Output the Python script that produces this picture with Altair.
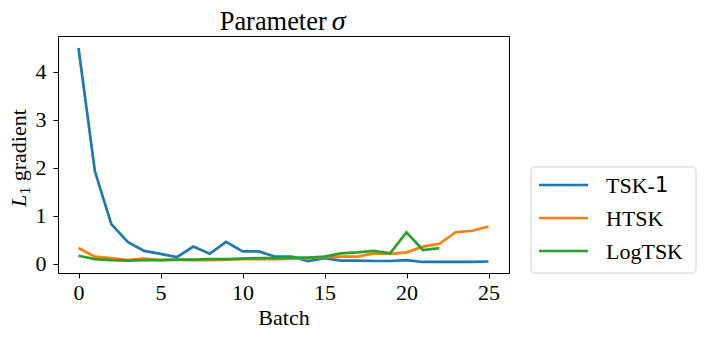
import altair as alt
import pandas as pd

batch = list(range(26))
tsk1 = [4.50, 1.93, 0.83, 0.46, 0.27, 0.21, 0.14, 0.36, 0.21, 0.46, 0.26, 0.26, 0.15,
        0.15, 0.06, 0.12, 0.07, 0.07, 0.06, 0.06, 0.08, 0.04, 0.04, 0.04, 0.04, 0.05]
htsk = [0.33, 0.15, 0.12, 0.08, 0.11, 0.08, 0.09, 0.08, 0.08, 0.09, 0.10, 0.10, 0.10,
        0.11, 0.12, 0.14, 0.15, 0.15, 0.22, 0.21, 0.24, 0.36, 0.42, 0.66, 0.69, 0.78]
logtsk = [0.17, 0.10, 0.08, 0.07, 0.08, 0.08, 0.09, 0.09, 0.10, 0.10, 0.11, 0.12, 0.12,
          0.13, 0.13, 0.15, 0.22, 0.24, 0.27, 0.22, 0.66, 0.29, 0.33]
series_names = ["TSK-1", "HTSK", "LogTSK"]
series_colors = ["#1f77b4", "#ff7f0e", "#2ca02c"]
x_ticks = [0, 5, 10, 15, 20, 25]
y_ticks = [0, 1, 2, 3, 4]

rows = []
for name, vals in zip(series_names, [tsk1, htsk, logtsk]):
    for b, v in zip(batch, vals):
        rows.append({"Batch": b, "value": v, "series": name})
df = pd.DataFrame(rows)

FONT = "Liberation Serif"
W, H = 451, 237

lines = alt.Chart(df).mark_line(strokeWidth=2.7, clip=True).encode(
    x=alt.X("Batch:Q", scale=alt.Scale(domain=[-1.25, 26.25], nice=False, zero=False),
            axis=alt.Axis(values=x_ticks, title="Batch", format="d")),
    y=alt.Y("value:Q", scale=alt.Scale(domain=[-0.19, 4.75], nice=False, zero=False),
            axis=alt.Axis(values=y_ticks, title=None, format="d")),
    color=alt.Color("series:N",
                    scale=alt.Scale(domain=series_names, range=series_colors),
                    legend=None),
    order="Batch:Q",
    detail="series:N",
)

def txt(text, x, y, size, italic=False, align="left", angle=0, baseline="alphabetic",
        font=FONT):
    d = pd.DataFrame({"t": [text]})
    kw = dict(font=font, fontSize=size, align=align, baseline=baseline, color="black")
    if italic:
        kw["fontStyle"] = "italic"
    if angle:
        kw["angle"] = angle
    return alt.Chart(d).mark_text(**kw).encode(
        text="t:N", x=alt.value(x), y=alt.value(y))

title1 = txt("Parameter", 268.7, -6.5, 26.4, align="right")
title2 = txt("σ", 273.7, -6.5, 28, italic=True)
ylab1 = txt("L", -32, 171, 22, italic=True, angle=270)
ylab2 = txt("1", -28.5, 158.5, 15.4, angle=270)
ylab3 = txt("gradient", -32, 145.3, 22, angle=270)

# legend (box, line samples, labels)
legend_box = alt.Chart(pd.DataFrame({"k": [0]})).mark_rect(
    fill="white", stroke="#d0d0d0", strokeWidth=1, cornerRadius=4
).encode(x=alt.value(473), x2=alt.value(638), y=alt.value(131), y2=alt.value(237))

legend_layers = [legend_box]
for i, (name, col) in enumerate(zip(series_names, series_colors)):
    yy = 149 + 33 * i
    legend_layers.append(
        alt.Chart(pd.DataFrame({"series": [name]})).mark_rule(strokeWidth=2.7, color=col).encode(
            x=alt.value(481), x2=alt.value(530), y=alt.value(yy)))
    if name.endswith("-1"):
        legend_layers.append(txt(name[:-1], 548, yy + 1, 22, baseline="middle"))
        legend_layers.append(txt(name[-1:], 597, yy + 1, 21, baseline="middle",
                                 font="DejaVu Sans"))
    else:
        legend_layers.append(txt(name, 548, yy + 1, 22, baseline="middle"))

chart = alt.layer(lines, title1, title2, ylab1, ylab2, ylab3, *legend_layers).properties(
    width=W, height=H,
    autosize=alt.AutoSizeParams(type="none"),
    padding={"left": 50, "top": 28, "right": 189, "bottom": 59},
).configure_view(
    stroke="black", strokeWidth=1
).configure_axis(
    grid=False, domain=False, tickColor="black", tickSize=5, tickWidth=1,
    labelFont=FONT, labelFontSize=22, labelColor="black",
    titleFont=FONT, titleFontSize=22, titleColor="black", titleFontWeight="normal",
).configure_axisX(
    labelPadding=4, titlePadding=4, labelFlush=False
).configure_axisY(
    labelPadding=7
)

chart.save("out.html", embed_options={"renderer": "svg", "actions": False})
